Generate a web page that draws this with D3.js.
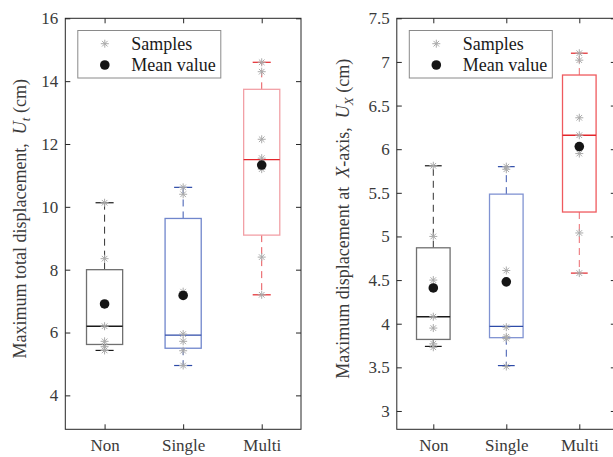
<!DOCTYPE html>
<html>
<head>
<meta charset="utf-8">
<script src="https://cdn.jsdelivr.net/npm/d3@7"></script>
<style>
  body { margin: 0; background: #fff; }
  svg { display: block; font-family: "Liberation Serif", "Times New Roman", serif; }
  .axis text { fill: #3a3a3a; font-size: 17px; font-family: "Liberation Serif", serif; }
  .axis line { stroke: #262626; }
  .axis path { display: none; }
</style>
</head>
<body>
<div id="chart"></div>
<script>
// categories and tick values
const categories = ["Non", "Single", "Multi"]
const utTicks = [4, 6, 8, 10, 12, 14, 16]
const uxTicks = [3, 3.5, 4, 4.5, 5, 5.5, 6, 6.5, 7, 7.5]

// total displacement U_t (cm)
const utSamples = [
    [10.13, 8.35, 6.9, 6.2, 5.72, 5.55, 5.43],
    [10.62, 10.4, 7.3, 5.95, 5.72, 5.42, 4.95],
    [14.6, 14.3, 12.15, 11.55, 11.2, 8.4, 7.2]
]
const utMean = [6.91, 7.18, 11.33]
const utQ1 = [5.62, 5.5, 9.1]
const utMedian = [6.2, 5.92, 11.5]
const utQ3 = [8.0, 9.63, 13.74]
const utLow = [5.43, 4.95, 7.2]
const utHigh = [10.13, 10.62, 14.6]

// displacement along X U_X (cm)
const uxSamples = [
    [5.81, 5.0, 4.5, 4.08, 3.95, 3.77, 3.73],
    [5.8, 5.77, 4.61, 3.96, 3.85, 3.83, 3.51],
    [7.1, 7.02, 6.36, 6.16, 5.95, 5.04, 4.58]
]
const uxMean = [4.41, 4.48, 6.03]
const uxQ1 = [3.82, 3.84, 5.28]
const uxMedian = [4.08, 3.97, 6.16]
const uxQ3 = [4.87, 5.485, 6.85]
const uxLow = [3.74, 3.52, 4.58]
const uxHigh = [5.81, 5.8, 7.1]

const W = 613, H = 457

const svg = d3.select('#chart').append('svg')
    .attr('width', W)
    .attr('height', H)

const strong = ["#1a1a1a", "#2e4ba8", "#e3262b"]

function panel(o) {
    const x = d3.scaleLinear().domain([0.5, 3.5]).range([o.left, o.right])
    const y = d3.scaleLinear().domain(o.yDomain).range([o.bottom, o.top])
    const g = svg.append('g')

    // ticks (inside, MATLAB style)
    g.append('g').attr('class', 'axis')
        .attr('transform', `translate(${o.left},0)`)
        .call(d3.axisLeft(y).tickValues(o.ticks).tickSizeInner(-5).tickSizeOuter(0).tickPadding(7)
            .tickFormat(d3.format('')))
    g.append('g').attr('class', 'axis')
        .attr('transform', `translate(${o.right},0)`)
        .call(d3.axisRight(y).tickValues(o.ticks).tickSizeInner(-5).tickSizeOuter(0).tickFormat(''))
    g.append('g').attr('class', 'axis')
        .attr('transform', `translate(0,${o.bottom})`)
        .call(d3.axisBottom(x).tickValues([1, 2, 3]).tickSizeInner(-5).tickSizeOuter(0).tickPadding(10)
            .tickFormat((d, i) => categories[i]))
    g.append('g').attr('class', 'axis')
        .attr('transform', `translate(0,${o.top})`)
        .call(d3.axisTop(x).tickValues([1, 2, 3]).tickSizeInner(-5).tickSizeOuter(0).tickFormat(''))

    // frame
    g.append('rect')
        .attr('x', o.left).attr('y', o.top)
        .attr('width', o.right - o.left).attr('height', o.bottom - o.top)
        .attr('fill', 'none').attr('stroke', '#262626').attr('stroke-width', 1)

    const bw = 0.46, cw = 0.23
    categories.forEach((c, i) => {
        const cx = x(i + 1)
        const half = (x(1 + bw / 2) - x(1))
        const capHalf = (x(1 + cw / 2) - x(1))
        const s = strong[i]
        // whiskers
        g.append('line')
            .attr('x1', cx).attr('x2', cx)
            .attr('y1', y(o.q3[i])).attr('y2', y(o.high[i]))
            .attr('stroke', o.whisker[i]).attr('stroke-dasharray', '7,5')
        g.append('line')
            .attr('x1', cx).attr('x2', cx)
            .attr('y1', y(o.q1[i])).attr('y2', y(o.low[i]))
            .attr('stroke', o.whisker[i]).attr('stroke-dasharray', '7,5')
        // caps
        ;[o.high[i], o.low[i]].forEach(v => {
            g.append('line')
                .attr('x1', cx - capHalf).attr('x2', cx + capHalf)
                .attr('y1', y(v)).attr('y2', y(v))
                .attr('stroke', s).attr('stroke-width', 1.2)
        })
        // box
        g.append('rect')
            .attr('x', cx - half).attr('y', y(o.q3[i]))
            .attr('width', 2 * half).attr('height', y(o.q1[i]) - y(o.q3[i]))
            .attr('fill', 'none').attr('stroke', o.edge[i]).attr('stroke-width', 1.3)
        g.append('line')
            .attr('x1', cx - half).attr('x2', cx + half)
            .attr('y1', y(o.median[i])).attr('y2', y(o.median[i]))
            .attr('stroke', s).attr('stroke-width', 1.3)
        // samples
        o.samples[i].forEach(v => star(g, cx, y(v)))
        // mean
        g.append('circle')
            .attr('cx', cx).attr('cy', y(o.mean[i])).attr('r', 4.8)
            .attr('fill', '#151515')
    })

    // legend
    const lg = g.append('g')
    lg.append('rect')
        .attr('x', o.left + 12.5).attr('y', 30.5)
        .attr('width', 143).attr('height', 47.5)
        .attr('fill', '#fff').attr('stroke', '#8a8a8a').attr('stroke-width', 1)
    star(lg, o.left + 39.5, 43.7)
    lg.append('circle').attr('cx', o.left + 39.5).attr('cy', 65).attr('r', 4.8).attr('fill', '#151515')
    lg.append('text').attr('x', o.left + 66).attr('y', 49.5)
        .attr('font-size', 18).attr('fill', '#1a1a1a').text('Samples')
    lg.append('text').attr('x', o.left + 66).attr('y', 71)
        .attr('font-size', 18).attr('fill', '#1a1a1a').text('Mean value')

    // y label
    const lab = g.append('text')
        .attr('transform', `translate(${o.labelX},${(o.top + o.bottom) / 2 - 5}) rotate(-90)`)
        .attr('text-anchor', 'middle')
        .attr('font-size', 18).attr('fill', '#3a3a3a')
    o.label(lab)
}

function star(g, cx, cy) {
    const r = 4
    const p = `M${cx - r},${cy}H${cx + r}M${cx},${cy - r}V${cy + r}` +
        `M${cx - r * 0.7},${cy - r * 0.7}L${cx + r * 0.7},${cy + r * 0.7}` +
        `M${cx - r * 0.7},${cy + r * 0.7}L${cx + r * 0.7},${cy - r * 0.7}`
    g.append('path').attr('d', p).attr('stroke', '#aaaaaa').attr('stroke-width', 1).attr('fill', 'none')
}

panel({
    left: 65.3, right: 301, top: 18.3, bottom: 429.3,
    yDomain: [2.92, 16], ticks: utTicks,
    samples: utSamples, mean: utMean, q1: utQ1, median: utMedian, q3: utQ3, low: utLow, high: utHigh,
    edge: ["#707070", "#7086cc", "#f2a0a6"],
    whisker: ["#333", "#3b57b0", "#e8555a"],
    labelX: 26,
    label: t => {
        t.append('tspan').text('Maximum total displacement,\u00a0\u00a0')
        t.append('tspan').attr('font-style', 'italic').text('U')
        t.append('tspan').attr('font-style', 'italic').attr('font-size', 13).attr('dy', 4).text('t')
        t.append('tspan').attr('dy', -4).text(' (cm)')
    }
})

panel({
    left: 396.8, right: 615.8, top: 18.3, bottom: 429.3,
    yDomain: [2.79, 7.5], ticks: uxTicks,
    samples: uxSamples, mean: uxMean, q1: uxQ1, median: uxMedian, q3: uxQ3, low: uxLow, high: uxHigh,
    edge: ["#707070", "#8093d2", "#ef5a5e"],
    whisker: ["#333", "#3b57b0", "#ec6a6e"],
    labelX: 349,
    label: t => {
        t.append('tspan').text('Maximum displacement at\u00a0\u00a0')
        t.append('tspan').attr('font-style', 'italic').text('X')
        t.append('tspan').text('-axis,\u00a0\u00a0')
        t.append('tspan').attr('font-style', 'italic').text('U')
        t.append('tspan').attr('font-style', 'italic').attr('font-size', 13).attr('dy', 4).text('X')
        t.append('tspan').attr('dy', -4).text(' (cm)')
    }
})
</script>
</body>
</html>
